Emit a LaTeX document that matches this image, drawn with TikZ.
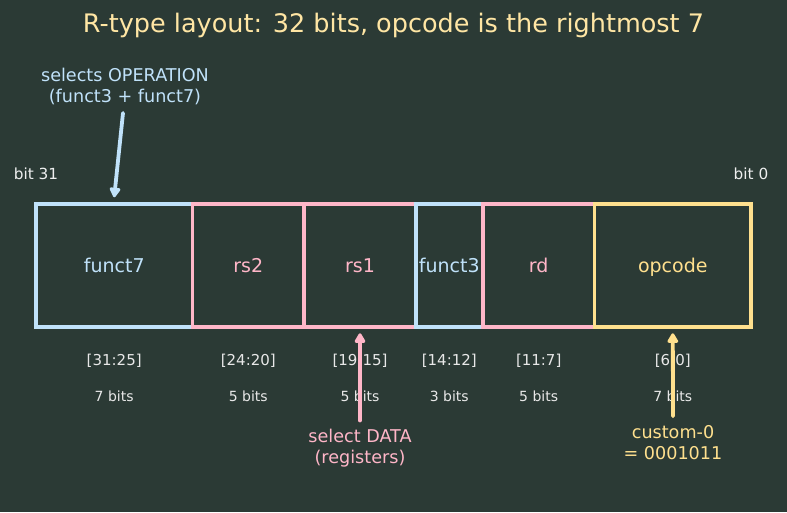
\documentclass[tikz,border=0pt]{standalone}
\usepackage{fontspec}
\setmainfont{DejaVu Sans}
\usetikzlibrary{positioning,arrows.meta}
\definecolor{bgc}{HTML}{2B3A35}
\definecolor{opblue}{HTML}{C0E2FA}
\definecolor{regpink}{HTML}{FFB6C8}
\definecolor{codeyel}{HTML}{FFE08E}
\definecolor{lblgray}{HTML}{E8E8E8}
\tikzstyle{field}=[draw,line width=3.5pt,minimum height=123pt,inner sep=0pt,text depth=0pt,font=\fontsize{19}{19}\selectfont]
\tikzstyle{bitrange}=[text=lblgray,font=\fontsize{15}{15}\selectfont]
\tikzstyle{nbits}=[text=lblgray,font=\fontsize{14}{14}\selectfont]
\tikzstyle{note}=[align=center,font=\fontsize{17.6}{21}\selectfont]
\tikzstyle{pointer}=[line width=3.8pt,line cap=round,-{Triangle[length=11pt,width=12pt,round]}]

\begin{document}
\begin{tikzpicture}[x=1pt,y=-1pt]
\fill[bgc] (0,0) rectangle (787,512);
\useasboundingbox (0,0) rectangle (787,512);
\node[text=codeyel!80!white,font=\fontsize{25.5}{26}\selectfont] (title) at (393.5,25) {R-type layout: 32 bits, opcode is the rightmost 7};

% the six fields, left to right (bit 31 down to bit 0)
\node[field,draw=opblue,text=opblue,minimum width=156.4pt] (f7) at (114.2,265.5) {funct7};
\node[field,draw=regpink,text=regpink,minimum width=111.7pt] (rs2) at (248.3,265.5) {rs2};
\node[field,draw=regpink,text=regpink,minimum width=111.7pt] (rs1) at (360,265.5) {rs1};
\node[field,draw=opblue,text=opblue,minimum width=67pt] (f3) at (449.3,265.5) {funct3};
\node[field,draw=regpink,text=regpink,minimum width=111.7pt] (rd) at (538.7,265.5) {rd};
\node[field,draw=codeyel,text=codeyel,minimum width=156.4pt] (op) at (672.8,265.5) {opcode};

\node[text=white!92!bgc,font=\fontsize{15.3}{15}\selectfont] (b31) at (36,174) {bit 31};
\node[text=white!92!bgc,font=\fontsize{15.3}{15}\selectfont] (b0) at (751,174) {bit 0};

\foreach \f/\r/\n in {f7/31:25/7,rs2/24:20/5,rs1/19:15/5,f3/14:12/3,rd/11:7/5,op/6:0/7}{
  \node[bitrange] (r-\f) at (\f.south |- 0,361) {[\r]};
  \node[nbits] (n-\f) at (\f.south |- 0,396) {\n\ bits};
}

\node[note,text=opblue] (opsel) at (125,86) {selects OPERATION\\(funct3 + funct7)};
\node[note,text=regpink] (datasel) at (360,448) {select DATA\\(registers)};
\node[note,text=codeyel] (cust) at (673,443) {custom-0\\= 0001011};

\coordinate (opA) at (123,113);
\draw[pointer,opblue] (opA) -- ([yshift=5pt]f7.north);
\draw[pointer,regpink] (datasel.north) ++(0,-5) -- ([yshift=-4.5pt]rs1.south);
\draw[pointer,codeyel] (cust.north) ++(0,-6) -- ([yshift=-4.5pt]op.south);
\end{tikzpicture}
\end{document}
